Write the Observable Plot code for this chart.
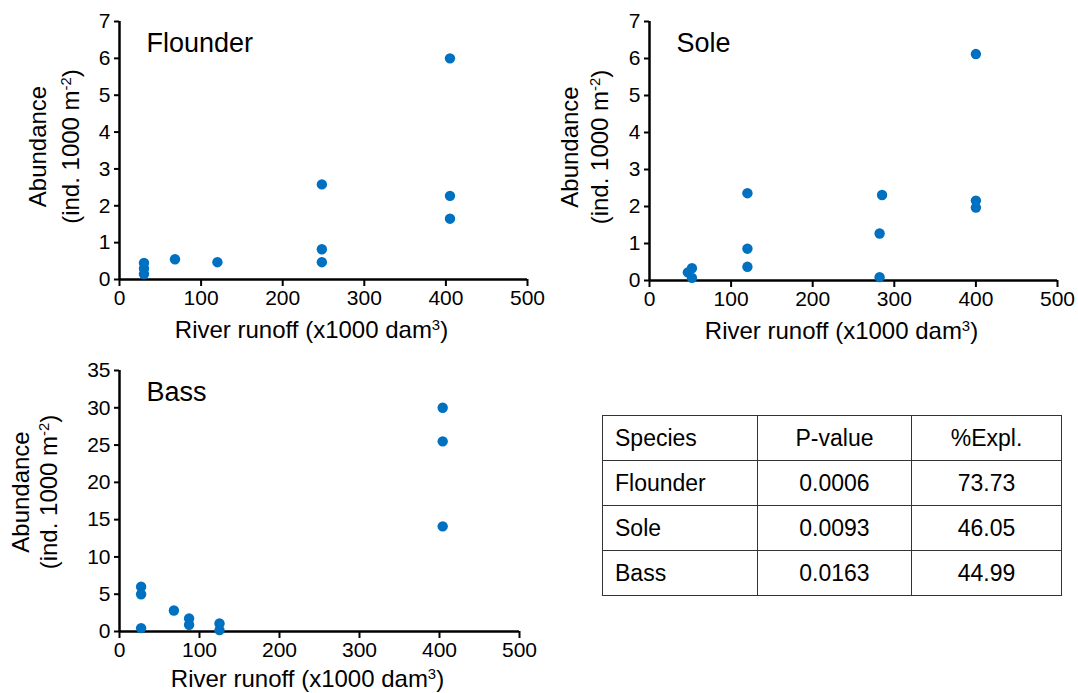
<!DOCTYPE html>
<html>
<head>
<meta charset="utf-8">
<script src="https://cdn.jsdelivr.net/npm/d3@7"></script>
<script src="https://cdn.jsdelivr.net/npm/@observablehq/plot@0.6"></script>
<style>
  body { margin: 0; background: #fff; font-family: "Liberation Sans", Arial, sans-serif; }
  #figure { position: relative; width: 1078px; height: 693px; overflow: hidden; }
  #figure svg { position: absolute; }
  #stats { position: absolute; left: 602px; top: 415px; width: 459px; table-layout: fixed; border-collapse: collapse; font-size: 23px; color: #000; }
  #stats td { box-sizing: border-box; border: 1.5px solid #333; height: 45px; padding: 0; text-align: center; }
  #stats td:first-child { text-align: left; padding-left: 12px; }
</style>
</head>
<body>
<div id="figure"></div>
<script>
// River runoff (x1000 dam³) and abundance (ind. 1000 m⁻²) per species
const flounderRunoff = [30, 30, 30, 68, 120, 248, 248, 248, 405, 405, 405];
const flounderAbundance = [0.45, 0.30, 0.15, 0.55, 0.47, 2.58, 0.82, 0.47, 6.0, 2.27, 1.65];

const soleRunoff = [47, 52, 52, 120, 120, 120, 282, 282, 285, 400, 400, 400];
const soleAbundance = [0.22, 0.33, 0.07, 2.36, 0.86, 0.37, 1.27, 0.09, 2.31, 6.12, 2.16, 1.97];

const bassRunoff = [27, 27, 27, 68, 87, 87, 125, 125, 404, 404, 404];
const bassAbundance = [6.0, 5.0, 0.45, 2.82, 1.75, 0.9, 1.07, 0.18, 30.0, 25.5, 14.1];

// Axis ticks
const runoffTicks = [0, 100, 200, 300, 400, 500];
const smallTicks = [0, 1, 2, 3, 4, 5, 6, 7];
const bassTicks = [0, 5, 10, 15, 20, 25, 30, 35];

// Regression summary table
const tableHeader = ["Species", "P-value", "%Expl."];
const species = ["Flounder", "Sole", "Bass"];
const pValues = ["0.0006", "0.0093", "0.0163"];
const explained = ["73.73", "46.05", "44.99"];

const xLabel = "River runoff (x1000 dam^{3})";
const yLabel1 = "Abundance";
const yLabel2 = "(ind. 1000 m^{-2})";

const font = "'Liberation Sans', Arial, sans-serif";
const blue = "#0070C0";

// Turn "^{...}" segments into raised, smaller tspans
function superscripts(svg) {
  d3.select(svg).selectAll("text").each(function () {
    const t = this.textContent;
    if (!t.includes("^{")) return;
    const sel = d3.select(this);
    sel.selectAll("*").remove();
    sel.text(null);
    t.split(/\^\{([^}]*)\}/).forEach((part, i) => {
      if (!part) return;
      const ts = sel.append("tspan").text(part);
      if (i % 2) ts.attr("font-size", "0.62em").attr("baseline-shift", "super");
    });
  });
}

function panel(cfg) {
  const data = cfg.runoff.map((x, i) => ({runoff: x, abundance: cfg.abundance[i]}));
  const svg = Plot.plot({
    width: cfg.width,
    height: cfg.height,
    marginLeft: cfg.marginLeft,
    marginRight: cfg.marginRight,
    marginTop: cfg.marginTop,
    marginBottom: cfg.marginBottom,
    style: {fontFamily: font, fontSize: "21px", color: "#000", background: "transparent", overflow: "visible"},
    x: {domain: [0, 500]},
    y: {domain: [0, cfg.yMax]},
    marks: [
      Plot.axisX({ticks: runoffTicks, tickFormat: d => String(d), tickSize: 7, tickPadding: 4, strokeWidth: 2, label: null, fontSize: 21}),
      Plot.axisY({ticks: cfg.yTicks, tickFormat: d => String(d), tickSize: 5, tickPadding: 4, strokeWidth: 2, label: null, fontSize: 21}),
      Plot.ruleY([0], {strokeWidth: 2.5}),
      Plot.ruleX([0], {strokeWidth: 2.5}),
      Plot.dot(data, {x: "runoff", y: "abundance", r: 5.2, fill: blue}),
      Plot.text([cfg.name], {text: d => d, frameAnchor: "top-left", textAnchor: "start", lineAnchor: "middle", dx: 27, dy: 21.7, fontSize: 27}),
      Plot.text([xLabel], {text: d => d, frameAnchor: "bottom", textAnchor: "middle", lineAnchor: "middle", dx: -12, dy: cfg.xLabelDy, fontSize: 24}),
      Plot.text([yLabel1], {text: d => d, frameAnchor: "left", rotate: -90, textAnchor: "middle", lineAnchor: "middle", dx: cfg.yLabelDx[0], dy: cfg.yLabelDy, fontSize: 24}),
      Plot.text([yLabel2], {text: d => d, frameAnchor: "left", rotate: -90, textAnchor: "middle", lineAnchor: "middle", dx: cfg.yLabelDx[1], dy: cfg.yLabelDy, fontSize: 24})
    ]
  });
  superscripts(svg);
  svg.style.left = cfg.left + "px";
  svg.style.top = cfg.top + "px";
  document.getElementById("figure").appendChild(svg);
}

panel({
  name: "Flounder", runoff: flounderRunoff, abundance: flounderAbundance, yMax: 7, yTicks: smallTicks,
  left: 0, top: 0, width: 540, height: 350,
  marginLeft: 119, marginRight: 13, marginTop: 21, marginBottom: 71,
  xLabelDy: 51, yLabelDx: [-81, -48], yLabelDy: -4
});

panel({
  name: "Sole", runoff: soleRunoff, abundance: soleAbundance, yMax: 7, yTicks: smallTicks,
  left: 540, top: 0, width: 538, height: 350,
  marginLeft: 109, marginRight: 21, marginTop: 21, marginBottom: 70,
  xLabelDy: 51, yLabelDx: [-79, -49], yLabelDy: -4
});

panel({
  name: "Bass", runoff: bassRunoff, abundance: bassAbundance, yMax: 35, yTicks: bassTicks,
  left: 0, top: 350, width: 540, height: 343,
  marginLeft: 119, marginRight: 21, marginTop: 20, marginBottom: 62,
  xLabelDy: 48, yLabelDx: [-98, -70], yLabelDy: -9
});

// Summary table
const table = d3.select("#figure").append("table").attr("id", "stats");
const colWidths = [155, 154, 150];
table.append("colgroup").selectAll("col").data(colWidths).join("col")
  .style("width", d => d + "px");
const rows = [tableHeader, ...species.map((s, i) => [s, pValues[i], explained[i]])];
table.append("tbody").selectAll("tr").data(rows).join("tr")
  .selectAll("td").data(d => d).join("td")
  .text(d => d);
</script>
</body>
</html>
